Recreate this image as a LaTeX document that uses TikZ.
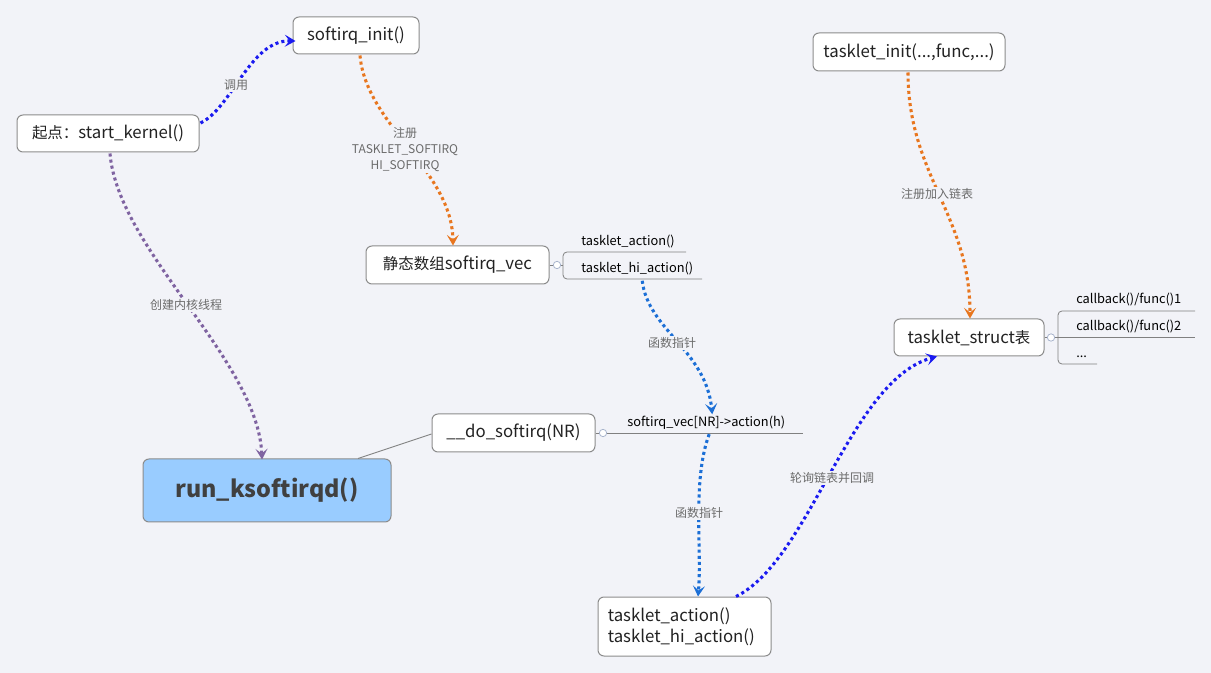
\documentclass[tikz,border=0pt]{standalone}
\usepackage{fontspec}
\setmainfont{Noto Sans CJK SC}
\usetikzlibrary{arrows.meta,calc}
\definecolor{bg}{HTML}{F2F3F8}
\definecolor{boxdraw}{HTML}{8C8C8C}
\definecolor{txt}{HTML}{222222}
\definecolor{lbltxt}{HTML}{6B6B6B}
\definecolor{cblue}{HTML}{1A1AF0}
\definecolor{cblue2}{HTML}{1C6FD6}
\definecolor{corange}{HTML}{E8761F}
\definecolor{cpurple}{HTML}{7F63A1}
\definecolor{runfill}{HTML}{99CCFF}
\definecolor{runtxt}{HTML}{404040}
\definecolor{brline}{HTML}{808080}
\definecolor{circ}{HTML}{A8B4CC}
\newcommand\zh[1]{{\fontsize{11.6}{14}\selectfont #1}}
\tikzset{
  box/.style={draw=boxdraw, line width=0.75pt, fill=white, rounded corners=4.5pt,
    inner sep=0pt, text=txt, font=\fontsize{12.6}{15}\selectfont},
  runbox/.style={box, fill=runfill, text=runtxt, font=\fontsize{17.5}{20}\selectfont\bfseries},
  brtext/.style={anchor=base west, inner sep=0pt, text=black, font=\fontsize{9.6}{11}\selectfont},
  lbl/.style={fill=bg, inner sep=1pt, text=lbltxt, font=\fontsize{9}{12}\selectfont, align=center},
  dotline/.style={line width=2.3pt, dash pattern=on 2.3pt off 2.3pt,
    -{Stealth[length=8pt,width=9pt,inset=3.5pt]}},
  brl/.style={draw=brline, line width=0.6pt},
  knob/.style={circle, draw=circ, fill=white, line width=0.6pt, minimum size=5.5pt, inner sep=0pt},
}
\begin{document}
\begin{tikzpicture}[x=0.75pt,y=-0.75pt]
\fill[bg] (0,0) rectangle (1211,673);
\useasboundingbox (0,0) rectangle (1211,673);

% nodes
\node[box, minimum width=94.5pt, minimum height=27.75pt] (si) at (356,35.5) {softirq\_init()};
\node[box, minimum width=136.5pt, minimum height=27.75pt] (sk) at (108,133.5) {\zh{起点：}start\_kernel()};
\node[box, minimum width=137.25pt, minimum height=28.5pt] (vec) at (457.5,265) {\zh{静态数组}softirq\_vec};
\node[box, minimum width=144pt, minimum height=28.5pt] (ti) at (909,52) {tasklet\_init(...,func,...)};
\node[box, minimum width=112.5pt, minimum height=27.75pt] (ts) at (969,337.5) {tasklet\_struct\zh{表}};
\node[box, minimum width=122.25pt, minimum height=28.5pt] (ds) at (513.5,433) {\_\_do\_softirq(NR)};
\node[runbox, minimum width=186pt, minimum height=47.25pt] (run) at (267,490.5) {run\_ksoftirqd()};
\node[box, minimum width=129.75pt, minimum height=44.25pt, align=left, text width=124pt, inner xsep=0pt, font=\fontsize{12.6}{15.5}\selectfont] (tab) at (684.5,626.5) {\hspace*{4.5pt}tasklet\_action()\\\hspace*{4.5pt}tasklet\_hi\_action()};

% branch of vec
\node[knob] (k1) at (557,265) {};
\draw[brl] (vec.east) -- (k1.west);
\draw[brl] (k1.east) -- (563,265);
\draw[brl, rounded corners=3pt] (686,252) -| (563,279) -- (702,279);
\node[brtext] (ta) at (581,246) {tasklet\_action()};
\node[brtext] (tha) at (581,273) {tasklet\_hi\_action()};

% branch of do_softirq
\node[knob] (k2) at (603,433) {};
\draw[brl] (ds.east) -- (k2.west);
\draw[brl] (k2.east) -- (803,433);
\node[brtext] (sva) at (627,427) {softirq\_vec[NR]->action(h)};

% branch of tasklet_struct
\node[knob] (k3) at (1051,337.5) {};
\draw[brl] (ts.east) -- (k3.west);
\draw[brl] (k3.east) -- (1058,337.5);
\draw[brl] (1058,337.5) -- (1195,337.5);
\draw[brl, rounded corners=3pt] (1195,311) -| (1058,364) -- (1097,364);
\node[brtext] (cb1) at (1076,304) {callback()/func()1};
\node[brtext] (cb2) at (1076,331) {callback()/func()2};
\node[brtext] (cb3) at (1076,358) {...};

% run -> do_softirq thin line
\draw[brl] ($(run.north)+(91,0)$) -- ($(ds.west)+(0,1)$);

% connectors
\draw[dotline, cblue] ($(sk.east)+(1,-10.5)$) .. controls (232,108) and (250,40) .. ($(si.west)+(3,5.5)$);
\draw[dotline, corange] ($(si.south)+(4,1)$) .. controls (366,125) and (452,170) .. ($(vec.north)+(-4.5,0)$);
\draw[dotline, cpurple] ($(sk.south)+(2,1)$) .. controls (118,250) and (258,360) .. ($(run.north)+(-5,1)$);
\draw[dotline, cblue2] ($(tha.south)+(5,5)$) .. controls (648,330) and (706,350) .. ($(sva.north)+(6,-2)$);
\draw[dotline, cblue2] ($(sva.south)+(3,4)$) .. controls (692,480) and (702,550) .. ($(tab.north)+(13.5,0)$);
\draw[dotline, cblue] ($(tab.north)+(51.5,0)$) .. controls (810,560) and (850,380) .. ($(ts.south)+(-32,0)$);
\draw[dotline, corange] ($(ti.south)+(-1,1)$) .. controls (908,175) and (970,215) .. ($(ts.north)+(1,0)$);

% labels
\node[lbl] (l1) at (236,85) {调用};
\node[lbl] (l2) at (405,150) {注册\\TASKLET\_SOFTIRQ\\HI\_SOFTIRQ};
\node[lbl] (l3) at (186,305) {创建内核线程};
\node[lbl] (l4) at (672,343) {函数指针};
\node[lbl] (l5) at (699,513) {函数指针};
\node[lbl] (l6) at (832,478) {轮询链表并回调};
\node[lbl] (l7) at (937,194) {注册加入链表};
\end{tikzpicture}
\end{document}
